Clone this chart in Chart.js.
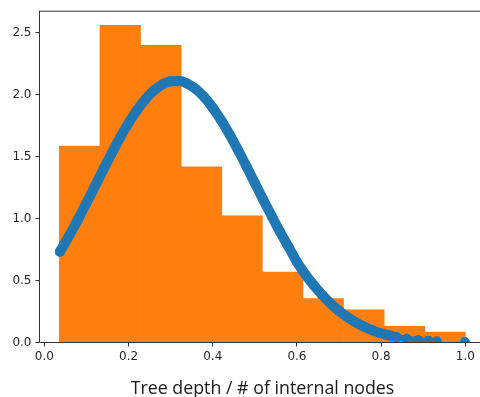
<!DOCTYPE html>
<html>
<head>
<meta charset="utf-8">
<script src="https://cdn.jsdelivr.net/npm/chart.js@4/dist/chart.umd.min.js"></script>
<style>
  html, body { margin: 0; padding: 0; overflow: hidden; background: #fff; }
  #wrap { width: 500px; height: 397px; }
</style>
</head>
<body>
<div id="wrap"><canvas id="c" width="500" height="397"></canvas></div>
<script>
// Histogram of normalised tree depth (density) with 10 equal-width bins.
const binEdges = [0.0356, 0.1320, 0.2285, 0.3249, 0.4214, 0.5178, 0.6142, 0.7107, 0.8071, 0.9036, 1.0000];
const binDensity = [1.584, 2.558, 2.397, 1.417, 1.021, 0.569, 0.354, 0.263, 0.131, 0.084];

// Fitted density evaluated at the sample points (drawn as a dotted band).
const sampleX = [0.037, 0.06, 0.08, 0.10, 0.12, 0.14, 0.16, 0.18, 0.20, 0.22,
                 0.24, 0.26, 0.28, 0.30, 0.32, 0.34, 0.36, 0.38, 0.40, 0.42,
                 0.44, 0.46, 0.48, 0.50, 0.52, 0.54, 0.56, 0.58, 0.60, 0.62,
                 0.64, 0.66, 0.68, 0.70, 0.72, 0.74, 0.76, 0.78, 0.80, 0.82,
                 0.837, 0.861, 0.888, 0.912, 0.932, 0.999];
const sampleDensity = [0.733, 0.868, 0.994, 1.125, 1.260, 1.395, 1.528, 1.654, 1.771, 1.875,
                       1.963, 2.033, 2.081, 2.107, 2.109, 2.088, 2.044, 1.979, 1.894, 1.793,
                       1.678, 1.553, 1.422, 1.287, 1.152, 1.020, 0.892, 0.772, 0.650, 0.549,
                       0.462, 0.384, 0.314, 0.255, 0.204, 0.162, 0.127, 0.098, 0.075, 0.057,
                       0.043, 0.030, 0.021, 0.015, 0.010, 0.004];

// Axis ticks and title.
const xTicks = [0.0, 0.2, 0.4, 0.6, 0.8, 1.0];
const yTicks = [0.0, 0.5, 1.0, 1.5, 2.0, 2.5];
const xTitle = 'Tree depth / # of internal nodes';

const ORANGE = '#ff7f0e';
const BLUE = '#1f77b4';
const INK = '#262626';

const binCenters = binDensity.map((_, i) => (binEdges[i] + binEdges[i + 1]) / 2);
const histPoints = binDensity.map((d, i) => ({ x: binCenters[i], y: d }));
const samplePoints = sampleX.map((x, i) => ({ x: x, y: sampleDensity[i] }));

// Axes frame (all four spines).
const framePlugin = {
  id: 'frame',
  afterDatasetsDraw(chart) {
    const { ctx, chartArea: a } = chart;
    ctx.save();
    ctx.strokeStyle = '#333';
    ctx.lineWidth = 1;
    ctx.strokeRect(a.left, a.top, a.right - a.left, a.bottom - a.top);
    ctx.restore();
  }
};

const tickFont = { family: 'DejaVu Sans', size: 12 };
const tickGrid = { offset: false, drawOnChartArea: false, drawTicks: true, tickLength: 4, color: '#333', lineWidth: 1 };

new Chart(document.getElementById('c'), {
  type: 'bar',
  data: {
    datasets: [
      {
        type: 'line',
        data: samplePoints,
        order: 0,
        borderColor: BLUE,
        borderWidth: 10,
        borderCapStyle: 'round',
        borderJoinStyle: 'round',
        cubicInterpolationMode: 'monotone',
        fill: false,
        pointRadius: 5,
        pointBorderWidth: 0,
        pointBackgroundColor: BLUE,
        segment: {
          borderWidth: ctx => (ctx.p0.parsed.x > 0.83 ? 6 : undefined),
          borderColor: ctx => (ctx.p1.parsed.x - ctx.p0.parsed.x > 0.05 ? 'rgba(0,0,0,0)' : undefined)
        }
      },
      {
        type: 'bar',
        data: histPoints,
        order: 1,
        backgroundColor: ORANGE,
        borderWidth: 0,
        barPercentage: 1.0,
        categoryPercentage: 1.0
      }
    ]
  },
  options: {
    responsive: false,
    animation: false,
    events: [],
    layout: { padding: { left: 0, top: 10.5, right: 14.45, bottom: 0 } },
    plugins: { legend: { display: false }, tooltip: { enabled: false } },
    scales: {
      x: {
        type: 'linear',
        min: -0.0115,
        max: 1.048,
        offset: false,
        afterBuildTicks: s => { s.ticks = xTicks.map(v => ({ value: v })); },
        afterFit: s => { s.height = 54.5; },
        ticks: {
          autoSkip: false,
          maxRotation: 0,
          padding: 3,
          color: INK,
          font: tickFont,
          callback: v => Number(v).toFixed(1)
        },
        grid: tickGrid,
        border: { display: false },
        title: {
          display: true,
          text: xTitle,
          color: '#1a1a1a',
          font: { family: 'Open Sans', size: 17.8 },
          padding: { top: 0, bottom: -3 }
        }
      },
      y: {
        type: 'linear',
        min: 0,
        max: 2.673,
        afterBuildTicks: s => { s.ticks = yTicks.map(v => ({ value: v })); },
        afterFit: s => { s.width = 39.5; },
        ticks: {
          autoSkip: false,
          padding: 4,
          color: INK,
          font: tickFont,
          callback: v => Number(v).toFixed(1)
        },
        grid: tickGrid,
        border: { display: false }
      }
    }
  },
  plugins: [framePlugin]
});
</script>
</body>
</html>
